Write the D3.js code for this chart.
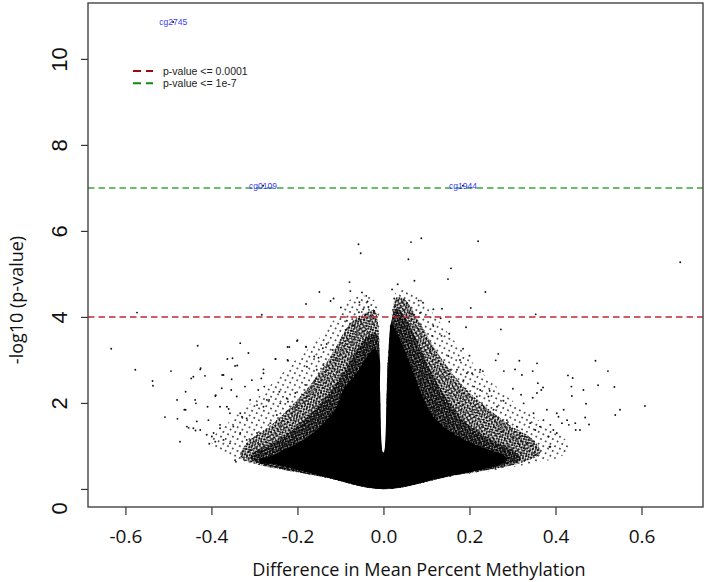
<!DOCTYPE html>
<html>
<head>
<meta charset="utf-8">
<script src="https://cdn.jsdelivr.net/npm/d3@7"></script>
<style>
  html, body { margin: 0; padding: 0; background: #fff; }
  svg { display: block; }
</style>
</head>
<body>
<svg id="chart" width="709" height="582"></svg>
<script>
// tick values / labels
var xTicks = [-0.6, -0.4, -0.2, 0.0, 0.2, 0.4, 0.6];
var xTickLabels = ["-0.6", "-0.4", "-0.2", "0.0", "0.2", "0.4", "0.6"];
var yTicks = [0, 2, 4, 6, 8, 10];
var yTickLabels = ["0", "2", "4", "6", "8", "10"];

// significance thresholds (-log10 p)
var thresholdY = [4, 7];
var thresholdLabels = ["p-value <= 0.0001", "p-value <= 1e-7"];
var thresholdColors = ["#bf2a31", "#3aa83a"];
var legendColors = ["#9b0d0d", "#118811"];

// labelled probes
var probeNames = ["cg2745", "cg0109", "cg1944"];
var probeX = [-0.489, -0.280, 0.185];
var probeY = [10.86, 7.05, 7.05];

// outline of the saturated part of the cloud (diff, -log10 p)
var coreEdge = [
  [-0.001, 0.84], [-0.008, 2.3], [-0.010, 3.1], [-0.020, 3.25], [-0.040, 3.05],
  [-0.062, 2.70], [-0.094, 2.30], [-0.108, 1.92], [-0.139, 1.53], [-0.186, 1.14],
  [-0.233, 0.91], [-0.264, 0.75], [-0.287, 0.70], [-0.287, 0.60], [-0.256, 0.58],
  [-0.140, 0.29], [0.0, 0.0], [0.148, 0.29], [0.256, 0.52], [0.287, 0.66],
  [0.283, 0.76], [0.225, 0.98], [0.163, 1.29], [0.116, 1.68], [0.085, 2.30],
  [0.062, 2.91], [0.039, 3.47], [0.023, 3.80], [0.018, 3.86], [0.012, 3.0],
  [0.008, 2.3], [0.001, 0.84]
];

// outline of the nearly black zone just outside the core
var innerEdge = [
  [-0.0015, 0.85], [-0.008, 2.3], [-0.010, 3.3], [-0.014, 3.6], [-0.030, 3.6],
  [-0.058, 3.3], [-0.090, 2.75], [-0.137, 2.1], [-0.190, 1.55], [-0.250, 1.1],
  [-0.300, 0.85], [-0.310, 0.72], [-0.290, 0.60], [-0.140, 0.285], [0.0, -0.002],
  [0.148, 0.285], [0.290, 0.56], [0.320, 0.72], [0.300, 0.90], [0.240, 1.2],
  [0.190, 1.55], [0.150, 2.05], [0.115, 2.65], [0.080, 3.4], [0.050, 4.0],
  [0.030, 4.2], [0.020, 3.95], [0.010, 3.0], [0.0015, 0.85]
];

// outline of the dense speckled band round the core
var midEdge = [
  [-0.002, 0.86], [-0.009, 2.3], [-0.010, 3.5], [-0.015, 4.0], [-0.020, 4.15],
  [-0.050, 4.05], [-0.077, 3.86], [-0.124, 3.07], [-0.180, 2.30], [-0.256, 1.53],
  [-0.318, 1.07], [-0.333, 0.75], [-0.303, 0.60], [-0.140, 0.28], [0.0, -0.005],
  [0.148, 0.28], [0.317, 0.60], [0.365, 0.84], [0.349, 1.14], [0.287, 1.53],
  [0.194, 2.30], [0.132, 3.07], [0.085, 3.86], [0.050, 4.40], [0.030, 4.45],
  [0.020, 4.0], [0.010, 3.0], [0.002, 0.86]
];

// outline of the thin speckled fringe
var haloEdge = [
  [-0.003, 0.88], [-0.010, 3.0], [-0.012, 4.2], [-0.030, 4.45], [-0.070, 4.45],
  [-0.110, 4.0], [-0.150, 3.5], [-0.215, 2.90], [-0.290, 2.15], [-0.360, 1.55],
  [-0.400, 1.10], [-0.370, 0.80], [-0.300, 0.58], [-0.140, 0.27], [0.0, -0.01],
  [0.148, 0.27], [0.340, 0.58], [0.420, 0.80], [0.430, 1.05], [0.380, 1.45],
  [0.300, 2.05], [0.220, 2.80], [0.160, 3.50], [0.110, 4.15], [0.070, 4.55],
  [0.035, 4.65], [0.020, 4.2], [0.010, 3.0], [0.003, 0.88]
];

// scattered probes, left side
var leftPts = [
  [-0.633, 3.26], [-0.573, 4.10], [-0.577, 2.77], [-0.537, 2.51], [-0.536, 2.40],
  [-0.508, 1.67], [-0.494, 2.74], [-0.473, 1.10], [-0.480, 2.07], [-0.479, 1.63],
  [-0.460, 2.26], [-0.460, 1.84], [-0.447, 2.57], [-0.453, 1.42], [-0.432, 3.33],
  [-0.426, 2.78], [-0.415, 2.63], [-0.436, 1.99], [-0.434, 1.57], [-0.437, 1.36],
  [-0.409, 1.91], [-0.405, 1.05], [-0.395, 1.30], [-0.390, 2.18], [-0.375, 2.65],
  [-0.380, 1.91], [-0.363, 3.02], [-0.353, 2.55], [-0.351, 3.04], [-0.333, 3.39],
  [-0.314, 3.16], [-0.340, 2.87], [-0.341, 2.15], [-0.360, 1.86], [-0.354, 2.30],
  [-0.322, 2.38], [-0.306, 2.53], [-0.343, 0.63], [-0.329, 1.68], [-0.291, 2.30],
  [-0.284, 2.57], [-0.279, 2.78], [-0.277, 2.38], [-0.251, 3.02], [-0.223, 3.30],
  [-0.223, 3.00], [-0.201, 3.44], [-0.180, 3.30], [-0.178, 2.84], [-0.222, 2.03],
  [-0.242, 2.26], [-0.266, 2.07], [-0.294, 1.95], [-0.380, 1.49], [-0.283, 4.05],
  [-0.425, 2.81], [-0.442, 2.61], [-0.372, 2.65], [-0.345, 2.86], [-0.279, 2.69],
  [-0.391, 2.16], [-0.376, 2.34], [-0.438, 2.07], [-0.463, 1.84], [-0.442, 1.41],
  [-0.407, 1.60], [-0.364, 1.91], [-0.357, 1.76], [-0.333, 1.76], [-0.318, 1.64],
  [-0.310, 2.07], [-0.279, 1.91], [-0.271, 2.07], [-0.240, 1.99], [-0.225, 2.11],
  [-0.205, 2.23], [-0.201, 1.91], [-0.178, 2.15], [-0.182, 2.42], [-0.159, 2.53],
  [-0.155, 2.77], [-0.140, 2.88], [-0.112, 3.00], [-0.380, 1.41], [-0.372, 1.14],
  [-0.349, 1.45], [-0.333, 1.30], [-0.399, 1.22], [-0.411, 1.26], [-0.426, 1.37],
  [-0.457, 1.45], [-0.391, 1.10], [-0.357, 1.06], [-0.318, 1.14], [-0.294, 1.30],
  [-0.263, 1.53], [-0.248, 1.72], [-0.310, 0.91], [-0.287, 0.87], [-0.345, 0.67],
  [-0.279, 0.60]
];

// scattered probes above the cloud
var topPts = [
  [-0.058, 5.69], [-0.053, 5.48], [-0.079, 4.81], [-0.149, 4.58], [-0.077, 4.60],
  [-0.050, 4.57], [-0.040, 4.49], [-0.180, 4.30], [-0.123, 4.37], [-0.116, 4.43],
  [-0.099, 4.22], [-0.056, 4.34], [-0.037, 4.36], [-0.035, 4.23], [-0.057, 4.11],
  [-0.047, 4.18], [-0.022, 4.14], [-0.085, 3.91], [-0.054, 3.93], [-0.088, 3.70],
  [-0.070, 3.80], [-0.200, 3.46], [-0.180, 3.31], [-0.219, 3.30], [-0.132, 3.37],
  [-0.141, 3.27], [-0.118, 3.23], [-0.251, 3.02], [-0.222, 2.98], [-0.161, 3.08],
  [-0.151, 3.05], [0.064, 5.74], [0.088, 5.83], [0.220, 5.76], [0.058, 5.34],
  [0.157, 5.13], [0.072, 4.84], [0.150, 4.88], [0.237, 4.58], [0.033, 4.76],
  [0.020, 4.64], [0.082, 4.38], [0.092, 4.33], [0.025, 4.43], [0.047, 4.40],
  [0.054, 4.32], [0.116, 4.18], [0.136, 4.19], [0.203, 4.21], [-0.023, 4.15],
  [0.085, 4.09], [0.064, 4.07], [0.133, 3.97], [0.192, 3.76], [0.273, 3.71],
  [0.116, 3.79], [0.135, 3.56], [0.153, 3.61], [0.113, 3.56], [0.097, 3.39],
  [0.185, 3.26], [0.267, 3.14], [0.200, 3.10], [0.151, 3.09], [0.261, 2.99],
  [0.109, 3.25], [0.690, 5.27]
];

// scattered probes, right side
var rightPts = [
  [0.354, 4.06], [0.153, 3.89], [0.316, 2.98], [0.357, 2.92], [0.493, 2.98],
  [0.231, 2.74], [0.206, 2.69], [0.280, 2.74], [0.306, 2.78], [0.322, 2.65],
  [0.347, 2.74], [0.522, 2.74], [0.429, 2.64], [0.440, 2.58], [0.359, 2.46],
  [0.371, 2.36], [0.367, 2.30], [0.437, 2.38], [0.499, 2.41], [0.537, 2.37],
  [0.465, 2.30], [0.301, 2.33], [0.247, 2.28], [0.320, 2.19], [0.347, 2.12],
  [0.438, 2.16], [0.279, 2.05], [0.471, 1.98], [0.608, 1.93], [0.550, 1.84],
  [0.539, 1.72], [0.469, 1.66], [0.419, 1.84], [0.407, 1.68], [0.446, 1.53],
  [0.478, 1.50], [0.447, 1.37], [0.431, 1.49], [0.388, 1.49], [0.403, 1.30],
  [0.384, 1.22], [0.372, 1.60], [0.353, 1.37], [0.341, 1.53], [0.330, 1.22],
  [0.310, 1.45], [0.386, 0.98], [0.347, 1.02], [0.314, 1.06], [0.326, 0.95],
  [0.295, 0.91], [0.287, 0.75], [0.302, 1.18], [0.275, 1.33], [0.287, 1.53],
  [0.257, 1.68], [0.264, 1.91], [0.233, 1.91], [0.244, 2.15], [0.217, 2.15],
  [0.211, 2.38], [0.186, 2.53], [0.171, 2.77], [0.178, 3.00], [0.155, 2.77],
  [0.457, 1.37], [0.427, 1.60], [0.415, 1.53], [0.395, 1.37], [0.403, 1.76],
  [0.380, 1.84], [0.357, 2.23], [0.326, 1.99], [0.349, 1.76], [0.364, 1.45],
  [0.388, 0.98], [0.353, 0.79], [0.333, 1.06], [0.318, 1.22], [0.287, 1.60],
  [0.256, 1.84], [0.225, 2.30], [0.194, 2.69], [0.225, 2.77]
];

var margin = {top: 3, left: 88, right: 6, bottom: 75};
var W = 709, H = 582;
var w = W - margin.left - margin.right;
var h = H - margin.top - margin.bottom;

var svg = d3.select("#chart");
var g = svg.append("g")
    .attr("transform", "translate(" + margin.left + "," + margin.top + ")");

var x = d3.scaleLinear().domain([-0.687, 0.743]).range([0, w]);
var y = d3.scaleLinear().domain([-0.42, 11.3]).range([h, 0]);

var defs = svg.append("defs");
defs.append("clipPath").attr("id", "plotClip")
  .append("rect").attr("width", w).attr("height", h);

// dot screens; overlapping a few at different angles breaks up the grid
function speckle(id, step, r, angle) {
    var p = defs.append("pattern")
        .attr("id", id)
        .attr("patternUnits", "userSpaceOnUse")
        .attr("width", step).attr("height", step)
        .attr("patternTransform", "rotate(" + angle + ")");
    p.append("circle")
        .attr("cx", step / 2).attr("cy", step / 2)
        .attr("r", r).attr("fill", "#000");
}
speckle("spA", 5.3, 0.8, 27);
speckle("spB", 4.1, 0.8, -38);
speckle("spC", 3.3, 0.85, 61);
speckle("spD", 2.7, 0.85, 12);
speckle("spE", 2.3, 0.9, -17);
speckle("spF", 3.7, 0.9, 77);

var plot = g.append("g").attr("clip-path", "url(#plotClip)");

var outline = d3.line()
    .x(function (d) { return x(d[0]); })
    .y(function (d) { return y(d[1]); })
    .curve(d3.curveCatmullRomClosed.alpha(0.5));

// density layers, lightest first
var layers = [
  {edge: haloEdge, fills: ["spA"]},
  {edge: midEdge, fills: ["spB", "spC", "spD"]},
  {edge: innerEdge, fills: ["spE", "spF"]}
];
layers.forEach(function (layer) {
    layer.fills.forEach(function (id) {
        plot.append("path").attr("d", outline(layer.edge)).attr("fill", "url(#" + id + ")");
    });
});
plot.append("path").attr("d", outline(coreEdge)).attr("fill", "#000");

var scattered = leftPts.concat(topPts, rightPts);
plot.selectAll(".pt")
    .data(scattered)
  .enter().append("circle")
    .attr("class", "pt")
    .attr("cx", function (d) { return x(d[0]); })
    .attr("cy", function (d) { return y(d[1]); })
    .attr("r", 0.95)
    .attr("fill", "#111");

// threshold lines
plot.selectAll(".thr")
    .data(thresholdY)
  .enter().append("line")
    .attr("class", "thr")
    .attr("x1", 0).attr("x2", w)
    .attr("y1", function (d) { return y(d); })
    .attr("y2", function (d) { return y(d); })
    .attr("stroke", function (d, i) { return thresholdColors[i]; })
    .attr("stroke-width", 1.5)
    .attr("stroke-dasharray", "6.5,4");

// labelled probes
var probes = g.selectAll(".probe")
    .data(probeNames)
  .enter().append("g")
    .attr("class", "probe")
    .attr("transform", function (d, i) {
        return "translate(" + x(probeX[i]) + "," + y(probeY[i]) + ")";
    });
probes.append("circle").attr("r", 1).attr("fill", "#111");
probes.append("text")
    .attr("text-anchor", "middle")
    .attr("dy", "0.35em")
    .attr("font-family", "Liberation Sans, Arial, sans-serif")
    .attr("font-size", 8.5)
    .attr("fill", "#3a3aff")
    .text(function (d) { return d; });

// legend
var legend = g.selectAll(".legend")
    .data(thresholdLabels)
  .enter().append("g")
    .attr("class", "legend")
    .attr("transform", function (d, i) { return "translate(45," + (68 + i * 12.3) + ")"; });
legend.append("line")
    .attr("x1", 0).attr("x2", 20)
    .attr("stroke", function (d, i) { return legendColors[i]; })
    .attr("stroke-width", 2)
    .attr("stroke-dasharray", "8,5");
legend.append("text")
    .attr("x", 30)
    .attr("dy", "0.35em")
    .attr("font-family", "Liberation Sans, Arial, sans-serif")
    .attr("font-size", 10.5)
    .attr("fill", "#222")
    .text(function (d) { return d; });

// axes
var xAxis = g.append("g")
    .attr("transform", "translate(0," + h + ")")
    .call(d3.axisBottom(x)
        .tickValues(xTicks)
        .tickSize(8)
        .tickPadding(15)
        .tickFormat(function (d, i) { return xTickLabels[i]; }));
xAxis.select(".domain").remove();
xAxis.selectAll(".tick line").attr("stroke", "#333").attr("stroke-width", 1.2);
xAxis.selectAll("text")
    .attr("font-family", "Open Sans, Noto Sans, sans-serif")
    .attr("font-size", 19)
    .attr("fill", "#111");

var yAxis = g.append("g")
    .call(d3.axisLeft(y)
        .tickValues(yTicks)
        .tickSize(7)
        .tickFormat(function (d, i) { return yTickLabels[i]; }));
yAxis.select(".domain").remove();
yAxis.selectAll(".tick line").attr("stroke", "#333").attr("stroke-width", 1.2);
yAxis.selectAll("text")
    .attr("transform", "rotate(-90)")
    .attr("text-anchor", "middle")
    .attr("x", function (d) { return d === 0 ? -19 : 0; })
    .attr("y", -21)
    .attr("dy", 0)
    .attr("font-family", "Liberation Sans, Arial, sans-serif")
    .attr("font-size", 22)
    .attr("fill", "#111");

// frame
g.append("rect")
    .attr("width", w).attr("height", h)
    .attr("fill", "none")
    .attr("stroke", "#444")
    .attr("stroke-width", 1.4);

// axis titles
svg.append("text")
    .attr("x", 419).attr("y", 576)
    .attr("text-anchor", "middle")
    .attr("font-family", "Open Sans, Noto Sans, sans-serif")
    .attr("font-size", 18)
    .attr("fill", "#111")
    .text("Difference in Mean Percent Methylation");

svg.append("text")
    .attr("transform", "translate(23,300) rotate(-90)")
    .attr("text-anchor", "middle")
    .attr("font-family", "Open Sans, Noto Sans, sans-serif")
    .attr("font-size", 18)
    .attr("fill", "#111")
    .text("-log10 (p-value)");
</script>
</body>
</html>
